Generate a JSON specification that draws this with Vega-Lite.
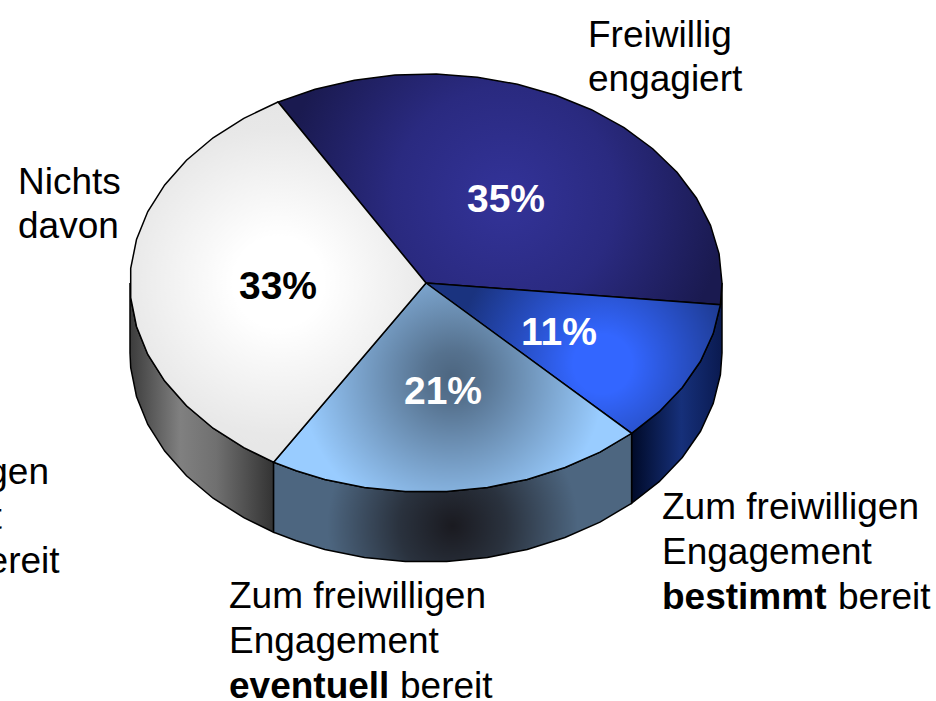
{"$schema":"https://vega.github.io/schema/vega-lite/v6.json","width":936,"height":701,"autosize":{"type":"fit","contains":"padding"},"padding":0,"background":"white","view":{"stroke":null},
"datasets":{
"slices":[
{"p":"gw","i":0,"x":130,"y":283},{"p":"gw","i":1,"x":130.7,"y":297.6},{"p":"gw","i":2,"x":136.5,"y":326.5},{"p":"gw","i":3,"x":147.8,"y":354.5},{"p":"gw","i":4,"x":164.7,"y":381.1},{"p":"gw","i":5,"x":186.5,"y":405.8},{"p":"gw","i":6,"x":213.1,"y":428.2},{"p":"gw","i":7,"x":243.8,"y":447.7},{"p":"gw","i":8,"x":273.6,"y":462.2},{"p":"gw","i":9,"x":273.6,"y":532.2},{"p":"gw","i":10,"x":243.8,"y":517.7},{"p":"gw","i":11,"x":213.1,"y":498.2},{"p":"gw","i":12,"x":186.5,"y":475.8},{"p":"gw","i":13,"x":164.7,"y":451.1},{"p":"gw","i":14,"x":147.8,"y":424.5},{"p":"gw","i":15,"x":136.5,"y":396.5},{"p":"gw","i":16,"x":130.7,"y":367.6},{"p":"gw","i":17,"x":130,"y":353},{"p":"gw","i":18,"x":130,"y":283},
{"p":"bw","i":0,"x":722,"y":283},{"p":"bw","i":1,"x":720.4,"y":304.8},{"p":"bw","i":2,"x":713.2,"y":333.6},{"p":"bw","i":3,"x":700.5,"y":361.3},{"p":"bw","i":4,"x":682.3,"y":387.5},{"p":"bw","i":5,"x":659.2,"y":411.7},{"p":"bw","i":6,"x":631.6,"y":433.3},{"p":"bw","i":7,"x":631.6,"y":503.3},{"p":"bw","i":8,"x":659.2,"y":481.7},{"p":"bw","i":9,"x":682.3,"y":457.5},{"p":"bw","i":10,"x":700.5,"y":431.3},{"p":"bw","i":11,"x":713.2,"y":403.6},{"p":"bw","i":12,"x":720.4,"y":374.8},{"p":"bw","i":13,"x":722,"y":353},{"p":"bw","i":14,"x":722,"y":283},
{"p":"sw","i":0,"x":631.6,"y":433.3},{"p":"sw","i":1,"x":600,"y":452.1},{"p":"sw","i":2,"x":565,"y":467.5},{"p":"sw","i":3,"x":527.2,"y":479.4},{"p":"sw","i":4,"x":487.5,"y":487.4},{"p":"sw","i":5,"x":446.7,"y":491.5},{"p":"sw","i":6,"x":405.3,"y":491.5},{"p":"sw","i":7,"x":364.5,"y":487.4},{"p":"sw","i":8,"x":324.8,"y":479.4},{"p":"sw","i":9,"x":296.2,"y":470.8},{"p":"sw","i":10,"x":273.6,"y":462.2},{"p":"sw","i":11,"x":273.6,"y":532.2},{"p":"sw","i":12,"x":296.2,"y":540.8},{"p":"sw","i":13,"x":324.8,"y":549.4},{"p":"sw","i":14,"x":364.5,"y":557.4},{"p":"sw","i":15,"x":405.3,"y":561.5},{"p":"sw","i":16,"x":446.7,"y":561.5},{"p":"sw","i":17,"x":487.5,"y":557.4},{"p":"sw","i":18,"x":527.2,"y":549.4},{"p":"sw","i":19,"x":565,"y":537.5},{"p":"sw","i":20,"x":600,"y":522.1},{"p":"sw","i":21,"x":631.6,"y":503.3},{"p":"sw","i":22,"x":631.6,"y":433.3},
{"p":"a","i":0,"x":426,"y":283},{"p":"a","i":1,"x":278,"y":102},{"p":"a","i":2,"x":315.1,"y":89.2},{"p":"a","i":3,"x":354.4,"y":80.2},{"p":"a","i":4,"x":395.1,"y":75.1},{"p":"a","i":5,"x":436.3,"y":74.1},{"p":"a","i":6,"x":477.4,"y":77.2},{"p":"a","i":7,"x":517.5,"y":84.2},{"p":"a","i":8,"x":555.8,"y":95.2},{"p":"a","i":9,"x":591.5,"y":109.7},{"p":"a","i":10,"x":624.1,"y":127.7},{"p":"a","i":11,"x":652.7,"y":148.7},{"p":"a","i":12,"x":677,"y":172.3},{"p":"a","i":13,"x":696.4,"y":198},{"p":"a","i":14,"x":710.5,"y":225.4},{"p":"a","i":15,"x":719.1,"y":253.9},{"p":"a","i":16,"x":722,"y":283},{"p":"a","i":17,"x":720.4,"y":304.8},{"p":"a","i":18,"x":426,"y":283},
{"p":"b","i":0,"x":426,"y":283},{"p":"b","i":1,"x":720.4,"y":304.8},{"p":"b","i":2,"x":713.2,"y":333.6},{"p":"b","i":3,"x":700.5,"y":361.3},{"p":"b","i":4,"x":682.3,"y":387.5},{"p":"b","i":5,"x":659.2,"y":411.7},{"p":"b","i":6,"x":631.6,"y":433.3},{"p":"b","i":7,"x":426,"y":283},
{"p":"c","i":0,"x":426,"y":283},{"p":"c","i":1,"x":631.6,"y":433.3},{"p":"c","i":2,"x":600,"y":452.1},{"p":"c","i":3,"x":565,"y":467.5},{"p":"c","i":4,"x":527.2,"y":479.4},{"p":"c","i":5,"x":487.5,"y":487.4},{"p":"c","i":6,"x":446.7,"y":491.5},{"p":"c","i":7,"x":405.3,"y":491.5},{"p":"c","i":8,"x":364.5,"y":487.4},{"p":"c","i":9,"x":324.8,"y":479.4},{"p":"c","i":10,"x":296.2,"y":470.8},{"p":"c","i":11,"x":273.6,"y":462.2},{"p":"c","i":12,"x":426,"y":283},
{"p":"d","i":0,"x":426,"y":283},{"p":"d","i":1,"x":273.6,"y":462.2},{"p":"d","i":2,"x":243.8,"y":447.7},{"p":"d","i":3,"x":213.1,"y":428.2},{"p":"d","i":4,"x":186.5,"y":405.8},{"p":"d","i":5,"x":164.7,"y":381.1},{"p":"d","i":6,"x":147.8,"y":354.5},{"p":"d","i":7,"x":136.5,"y":326.5},{"p":"d","i":8,"x":130.7,"y":297.6},{"p":"d","i":9,"x":130.7,"y":268.4},{"p":"d","i":10,"x":136.5,"y":239.5},{"p":"d","i":11,"x":147.8,"y":211.5},{"p":"d","i":12,"x":164.7,"y":184.9},{"p":"d","i":13,"x":186.5,"y":160.2},{"p":"d","i":14,"x":213.1,"y":137.8},{"p":"d","i":15,"x":243.8,"y":118.3},{"p":"d","i":16,"x":278,"y":102},{"p":"d","i":17,"x":426,"y":283}
],
"labels":[
{"t":"Freiwillig","x":588,"y":47},{"t":"engagiert","x":588,"y":91},
{"t":"Nichts","x":18,"y":194},{"t":"davon","x":18,"y":238},
{"t":"Zum freiwilligen","x":662,"y":519},{"t":"Engagement","x":662,"y":564},{"t":"bereit","x":838,"y":609},
{"t":"Zum freiwilligen","x":229,"y":608},{"t":"Engagement","x":229,"y":653},{"t":"bereit","x":400,"y":698},
{"t":"Zum freiwilligen","x":-208,"y":484},{"t":"Engagement","x":-208,"y":529},{"t":"bereit","x":-33,"y":573}
],
"boldLabels":[{"t":"bestimmt","x":662,"y":609},{"t":"eventuell","x":229,"y":698}],
"shares":[
{"t":"35%","x":506,"y":212,"c":"w"},{"t":"33%","x":278,"y":299,"c":"k"},{"t":"21%","x":443,"y":404,"c":"w"},{"t":"11%","x":559,"y":345,"c":"w"}
]},
"encoding":{"x":{"field":"x","type":"quantitative","scale":{"domain":[0,936],"nice":false,"zero":false},"axis":null},"y":{"field":"y","type":"quantitative","scale":{"domain":[701,0],"nice":false,"zero":false},"axis":null}},
"layer":[
{"data":{"name":"slices"},"transform":[{"filter":"datum.p==='gw'"}],"mark":{"type":"line","filled":true,"stroke":"#000","strokeWidth":1.5,"fill":{"gradient":"linear","x1":0,"y1":0,"x2":1,"y2":0,"stops":[{"offset":0,"color":"#3c3c3c"},{"offset":0.35,"color":"#808080"},{"offset":0.6,"color":"#707070"},{"offset":1,"color":"#333333"}]}},"encoding":{"order":{"field":"i"}}},
{"data":{"name":"slices"},"transform":[{"filter":"datum.p==='bw'"}],"mark":{"type":"line","filled":true,"stroke":"#000","strokeWidth":1.5,"fill":{"gradient":"linear","x1":0,"y1":0,"x2":1,"y2":0,"stops":[{"offset":0,"color":"#000a28"},{"offset":0.55,"color":"#16307a"},{"offset":1,"color":"#0a1a50"}]}},"encoding":{"order":{"field":"i"}}},
{"data":{"name":"slices"},"transform":[{"filter":"datum.p==='sw'"}],"mark":{"type":"line","filled":true,"stroke":"#000","strokeWidth":1.5,"fill":{"gradient":"radial","x1":0.5,"y1":0.58,"r1":0,"x2":0.5,"y2":0.58,"r2":0.5,"stops":[{"offset":0,"color":"#1a1a20"},{"offset":0.3,"color":"#2a323e"},{"offset":0.7,"color":"#4d6680"},{"offset":1,"color":"#4d6680"}]}},"encoding":{"order":{"field":"i"}}},
{"data":{"name":"slices"},"transform":[{"filter":"datum.p==='a'"}],"mark":{"type":"line","filled":true,"stroke":"#000","strokeWidth":1.5,"fill":{"gradient":"radial","x1":0.51,"y1":0.52,"r1":0,"x2":0.51,"y2":0.52,"r2":0.5,"stops":[{"offset":0,"color":"#333399"},{"offset":0.5,"color":"#2a2a80"},{"offset":1,"color":"#1a1a50"}]}},"encoding":{"order":{"field":"i"}}},
{"data":{"name":"slices"},"transform":[{"filter":"datum.p==='b'"}],"mark":{"type":"line","filled":true,"stroke":"#000","strokeWidth":1.5,"fill":{"gradient":"radial","x1":0.6,"y1":0.52,"r1":0,"x2":0.6,"y2":0.52,"r2":0.5,"stops":[{"offset":0,"color":"#3366ff"},{"offset":0.2,"color":"#3366ff"},{"offset":1,"color":"#1a337f"}]}},"encoding":{"order":{"field":"i"}}},
{"data":{"name":"slices"},"transform":[{"filter":"datum.p==='c'"}],"mark":{"type":"line","filled":true,"stroke":"#000","strokeWidth":1.5,"fill":{"gradient":"radial","x1":0.5,"y1":0.47,"r1":0,"x2":0.5,"y2":0.47,"r2":0.5,"stops":[{"offset":0,"color":"#4d6680"},{"offset":0.15,"color":"#56728f"},{"offset":0.85,"color":"#99ccff"},{"offset":1,"color":"#99ccff"}]}},"encoding":{"order":{"field":"i"}}},
{"data":{"name":"slices"},"transform":[{"filter":"datum.p==='d'"}],"mark":{"type":"line","filled":true,"stroke":"#000","strokeWidth":1.5,"fill":{"gradient":"radial","x1":0.5,"y1":0.5,"r1":0,"x2":0.5,"y2":0.5,"r2":0.5,"stops":[{"offset":0,"color":"#ffffff"},{"offset":0.25,"color":"#ffffff"},{"offset":0.85,"color":"#e8e8e8"},{"offset":1,"color":"#e6e6e6"}]}},"encoding":{"order":{"field":"i"}}},
{"data":{"name":"labels"},"mark":{"type":"text","font":"Liberation Sans","fontSize":37,"align":"left","baseline":"alphabetic","color":"#000","clip":true},"encoding":{"text":{"field":"t"}}},
{"data":{"name":"boldLabels"},"mark":{"type":"text","font":"Liberation Sans","fontSize":37,"fontWeight":"bold","align":"left","baseline":"alphabetic","color":"#000","clip":true},"encoding":{"text":{"field":"t"}}},
{"data":{"name":"shares"},"mark":{"type":"text","font":"Liberation Sans","fontSize":39,"fontWeight":"bold","align":"center","baseline":"alphabetic"},"encoding":{"text":{"field":"t"},"color":{"field":"c","type":"nominal","legend":null,"scale":{"domain":["w","k"],"range":["#ffffff","#000000"]}}}}
]}
